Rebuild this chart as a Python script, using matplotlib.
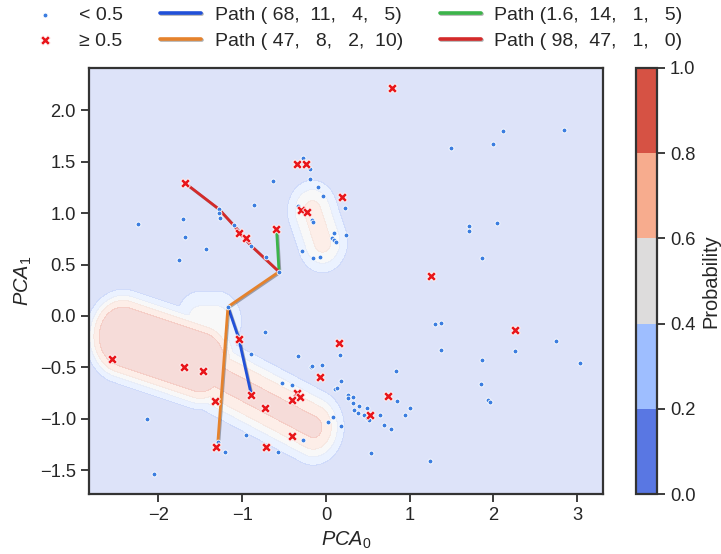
import numpy as np
import matplotlib
matplotlib.use("Agg")
import matplotlib.pyplot as plt
import matplotlib.patheffects as pe
from matplotlib.colors import ListedColormap, BoundaryNorm
from matplotlib.cm import ScalarMappable
import seaborn as sns

# Données

# points dont la proba < 0.5
low_x = [-0.86, -2.25, -1.71, -1.28, -1.28, -1.27, -1.68, -1.10, -1.43, -0.89, -1.75,
         -0.275, -0.19, -0.63, -0.19, -0.09, -0.03, 0.23, -0.33, -0.17, -0.15, 0.10, 0.24,
         0.075, 0.10, 0.12, -0.28, -0.07, -0.15, -0.72, -0.56,
         2.11, 2.84, 2.00, 1.50, 1.71, 1.71, 2.05, 1.86,
         1.30, 1.38, 2.75, 1.37, 2.26, 1.86, 3.04, 1.85, 1.94, 1.96, 1.24,
         -0.73, -0.33, 0.17, 0.84, -0.05, -0.18, -0.16, 0.18, 0.11, 0.135, -0.53, -0.41,
         0.85, 1.01, 0.26, 0.26, 0.32, 0.32, 0.39, 0.49, 0.34, 0.38, 0.45, 0.49, 0.51,
         0.65, 0.94, 0.69, 0.78, 0.09, 0.02, 0.18, -0.275, -0.57, 0.54,
         -1.17, -0.90, -2.14, -0.96, -1.29, -1.20, -2.05]
low_y = [1.08, 0.89, 0.94, 1.04, 1.00, 0.95, 0.77, 0.88, 0.65, 0.68, 0.54,
         1.54, 1.43, 1.31, 1.33, 1.25, 1.17, 1.05, 1.07, 0.93, 0.91, 0.81, 0.79,
         0.76, 0.74, 0.72, 0.63, 0.57, 0.56, 0.57, 0.43,
         1.80, 1.81, 1.67, 1.63, 0.87, 0.83, 0.90, 0.56,
         -0.08, -0.07, -0.24, -0.33, -0.34, -0.43, -0.46, -0.66, -0.82, -0.84, -1.41,
         -0.16, -0.39, -0.38, -0.53, -0.48, -0.50, -0.49, -0.63, -0.71, -0.70, -0.65, -0.67,
         -0.83, -0.89, -0.77, -0.80, -0.79, -0.85, -0.87, -0.89, -0.91, -0.94, -0.96, -0.99, -1.01,
         -0.96, -0.96, -1.06, -1.10, -0.98, -1.03, -1.07, -1.21, -1.32, -1.33,
         0.09, -0.37, -1.00, -1.16, -1.22, -1.32, -1.54]

# points dont la proba >= 0.5
high_x = [-1.68, -1.04, -0.95, 0.79, -0.35, -0.24, 0.19, -0.30, -0.23, -0.59, 1.26, 2.26,
          0.155, -0.075, -0.35, -0.31, -0.41, 0.74, 0.53, -0.73, -0.41, -0.72,
          -1.04, -2.56, -1.69, -1.47, -0.89, -1.32, -1.31]
high_y = [1.29, 0.81, 0.76, 2.22, 1.48, 1.48, 1.16, 1.03, 1.01, 0.85, 0.39, -0.14,
          -0.26, -0.59, -0.75, -0.79, -0.82, -0.78, -0.96, -0.89, -1.17, -1.27,
          -0.22, -0.42, -0.50, -0.53, -0.77, -0.83, -1.27]

# chemins
path_labels = ["Path ( 68,  11,   4,   5)", "Path ( 47,   8,   2,  10)",
               "Path (1.6,  14,   1,   5)", "Path ( 98,  47,   1,   0)"]
path_x = [[-1.17, -1.04, -0.89],
          [-0.56, -1.17, -1.29],
          [-0.59, -0.56],
          [-1.68, -1.28, -1.10, -0.89, -0.56]]
path_y = [[0.09, -0.22, -0.77],
          [0.43, 0.09, -1.22],
          [0.85, 0.43],
          [1.29, 1.04, 0.88, 0.68, 0.43]]
path_colors = ["#2150d8", "#e5822c", "#3cb44a", "#d42a2a"]

# zones de proba (approx.) : segments flous
blob_start = [(-2.42, -0.20), (-1.50, -0.50), (-0.16, 1.02), (-1.50, -0.05)]
blob_end = [(-1.50, -0.45), (-0.15, -1.08), (-0.04, 0.72), (-1.30, -0.05)]
blob_radius = [0.38, 0.27, 0.226, 0.26]
blob_soft = [0.06, 0.08, 0.078, 0.08]
blob_peak = [0.97, 0.90, 0.72, 0.50]

levels = [0.0, 0.2, 0.4, 0.6, 0.8, 1.0]
xlim = (-2.83, 3.31)
ylim = (-1.73, 2.41)


def seg_dist(X, Y, p0, p1):
    p0 = np.asarray(p0)
    p1 = np.asarray(p1)
    d = p1 - p0
    t = ((X - p0[0]) * d[0] + (Y - p0[1]) * d[1]) / (d @ d)
    t = np.clip(t, 0, 1)
    return np.hypot(X - (p0[0] + t * d[0]), Y - (p0[1] + t * d[1]))


def proba_field(X, Y):
    P = np.zeros_like(X)
    for s, e, r, w, a in zip(blob_start, blob_end, blob_radius, blob_soft, blob_peak):
        dist = seg_dist(X, Y, s, e)
        P = np.maximum(P, a / (1 + np.exp((dist - r) / w)))
    return P


sns.set_theme(style="ticks", font_scale=1.2)
plt.rcParams['font.family'] = ['Liberation Sans', 'DejaVu Sans']
plt.rcParams['mathtext.fontset'] = 'custom'
plt.rcParams['mathtext.it'] = 'Liberation Sans:italic'
plt.rcParams['mathtext.rm'] = 'Liberation Sans'

fig = plt.figure(figsize=(7.21, 5.54), dpi=100)
ax = fig.add_axes([0.1234, 0.1083, 0.7129, 0.769])
cax = fig.add_axes([0.882, 0.1083, 0.029, 0.769])

gx = np.linspace(xlim[0], xlim[1], 300)
gy = np.linspace(ylim[0], ylim[1], 300)
GX, GY = np.meshgrid(gx, gy)
ax.contourf(GX, GY, proba_field(GX, GY), levels=levels, cmap='coolwarm', alpha=0.2)

for px, py, lab, col in zip(path_x, path_y, path_labels, path_colors):
    ax.plot(px, py, color=col, lw=2.0, label=lab, zorder=3,
            path_effects=[pe.SimpleLineShadow(offset=(0.7, -0.7), alpha=0.35), pe.Normal()])

ax.scatter(low_x, low_y, s=12, c='#3b7de0', edgecolors='white', linewidths=0.6,
           label='< 0.5', zorder=4)
ax.scatter(high_x, high_y, s=50, marker='X', c='#e8161b', edgecolors='white',
           linewidths=0.6, label='≥ 0.5', zorder=4)

ax.set_xlim(*xlim)
ax.set_ylim(*ylim)
ax.set_xticks([-2, -1, 0, 1, 2, 3])
ax.set_yticks([-1.5, -1.0, -0.5, 0.0, 0.5, 1.0, 1.5, 2.0])
ax.set_xlabel('$PCA_0$')
ax.set_ylabel('$PCA_1$')
for sp in ax.spines.values():
    sp.set_linewidth(1.6)
    sp.set_color('#333333')

handles, labels = ax.get_legend_handles_labels()
order = [4, 5, 0, 1, 2, 3]
leg = ax.legend([handles[i] for i in order], [labels[i] for i in order], ncol=3,
                loc='lower center', bbox_to_anchor=(0.515, 1.0), frameon=False,
                fontsize=14, handlelength=2.1, handletextpad=0.7, columnspacing=1.9,
                labelspacing=0.4, borderaxespad=0.55)
for h in leg.legend_handles[2:]:
    h.set_linewidth(2.6)

# barre de couleur
cmap = plt.get_cmap('coolwarm')
mids = [(levels[i] + levels[i + 1]) / 2 for i in range(len(levels) - 1)]
sm = ScalarMappable(norm=BoundaryNorm(levels, len(mids)), cmap=ListedColormap([cmap(m) for m in mids]))
cb = fig.colorbar(sm, cax=cax, ticks=levels)
cb.set_label('Probability')
cb.outline.set_linewidth(1.6)
cb.outline.set_edgecolor('#333333')

plt.savefig('out.png', dpi=100)
